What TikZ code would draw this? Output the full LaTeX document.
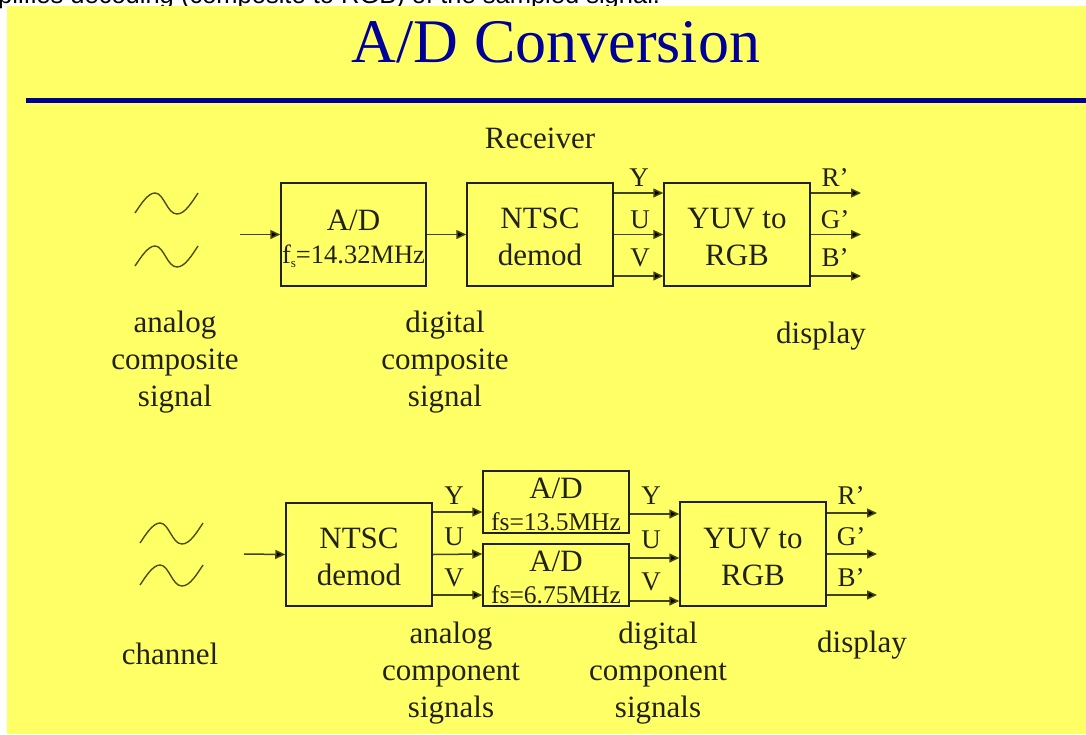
\documentclass[tikz,border=0pt]{standalone}
\usepackage{fontspec}
\setmainfont{Liberation Serif}
\newfontfamily\helv{Liberation Sans}
\usetikzlibrary{arrows.meta}
\definecolor{slidebg}{HTML}{FFFF66}
\definecolor{slideblue}{HTML}{000099}
\definecolor{ink}{HTML}{222211}
\newcommand{\topstrut}[1]{\rule{0pt}{#1pt}}
\newcommand{\adfont}{\fontsize{31}{33}\selectfont}
\tikzset{
  blockbox/.style={draw=ink,line width=1.5pt,inner sep=0pt,align=center,text=ink,font=\fontsize{31}{37}\selectfont},
  sigarrow/.style={draw=ink!85!yellow,line width=1.5pt,-{Triangle[length=10pt,width=9pt,fill=black]}},
  bodytext/.style={inner sep=0pt,align=center,text=ink,font=\fontsize{31}{37}\selectfont},
  chanlabel/.style={inner sep=0pt,text=ink,font=\fontsize{27}{30}\selectfont,anchor=base},
  sinecurve/.style={draw=ink!80!yellow,line width=1.4pt}
}
\newcommand{\sinewave}[2]{%
  \draw[sinecurve,shift={(#1,#2)}] (0,0) .. controls (6,-9) and (13,-20) .. (20,-20)
    .. controls (29,-20) and (32,1) .. (42,1) .. controls (50,1) and (57,-11) .. (63,-20);}
\begin{document}
\begin{tikzpicture}[x=1pt,y=-1pt]
\useasboundingbox (0,0) rectangle (1086,734);
\node[anchor=base west,inner sep=0pt,font=\helv\fontsize{25.5}{27}\selectfont] (topline) at (-2,3) {plifies decoding (composite to RGB) of the sampled signal.};
\fill[slidebg] (7,6) rectangle (1086,734);
\node[anchor=base,inner sep=0pt,text=slideblue,font=\fontsize{62}{64}\selectfont] (title) at (556,62) {A/D Conversion};
\fill[slideblue] (26,98) rectangle (1086,103);
\node[bodytext] (receiver) at (540,138) {Receiver};
% sine waves
\sinewave{135}{213}
\sinewave{135}{266}
\sinewave{140}{543}
\sinewave{140}{585}
% upper chain
\node[blockbox,minimum width=145pt,minimum height=103pt] (ad) at (353.5,234.5) {\adfont\topstrut{30}A/D\\[-4pt]\fontsize{26.5}{28}\selectfont f\raisebox{-4pt}{\fontsize{13}{14}\selectfont s}=14.32MHz};
\node[blockbox,minimum width=146pt,minimum height=103pt] (nt) at (540,234.5) {\topstrut{25.5}NTSC\\demod};
\node[blockbox,minimum width=146pt,minimum height=103pt] (yuv) at (737,234.5) {\topstrut{25.5}YUV to\\RGB};
\coordinate (inA) at (240,234.5);
\coordinate (rA) at (861,193);
\coordinate (gA) at (861,234.5);
\coordinate (bA) at (861,276);
\draw[sigarrow] (inA) -- (ad.west);
\draw[sigarrow] (ad.east) -- (nt.west);
\draw[sigarrow] ([yshift=41.5pt]nt.east) -- ([yshift=41.5pt]yuv.west);
\draw[sigarrow] (nt.east) -- (yuv.west);
\draw[sigarrow] ([yshift=-41.5pt]nt.east) -- ([yshift=-41.5pt]yuv.west);
\draw[sigarrow] ([yshift=41.5pt]yuv.east) -- (rA);
\draw[sigarrow] (yuv.east) -- (gA);
\draw[sigarrow] ([yshift=-41.5pt]yuv.east) -- (bA);
\node[chanlabel] (ya) at (639,186) {Y};
\node[chanlabel] (ua) at (640,228) {U};
\node[chanlabel] (va) at (640,266) {V};
\node[chanlabel] (ra) at (835,186) {R’};
\node[chanlabel] (ga) at (835,228) {G’};
\node[chanlabel] (ba) at (835,266) {B’};
\node[bodytext] (acs) at (175,362.5) {analog\\composite\\signal};
\node[bodytext] (dcs) at (445,362.5) {digital\\composite\\signal};
\node[bodytext] (dispa) at (821,336) {display};
% lower chain
\node[blockbox,minimum width=146pt,minimum height=103pt] (ntb) at (359,554.5) {\topstrut{25.5}NTSC\\demod};
\node[blockbox,minimum width=146pt,minimum height=62pt] (adY) at (556,502) {\adfont\topstrut{24.5}A/D\\[-5pt]\fontsize{25.5}{27}\selectfont fs=13.5MHz};
\node[blockbox,minimum width=146pt,minimum height=62pt] (adC) at (556,575) {\adfont\topstrut{24.5}A/D\\[-5pt]\fontsize{25.5}{27}\selectfont fs=6.75MHz};
\node[blockbox,minimum width=146pt,minimum height=104pt] (yuvb) at (753,554) {\topstrut{25.5}YUV to\\RGB};
\coordinate (inB) at (244,554);
\coordinate (rB) at (877,513);
\coordinate (gB) at (877,554);
\coordinate (bB) at (877,595);
\draw[sigarrow] (inB) -- (ntb.west);
\draw[sigarrow] ([yshift=42.5pt]ntb.east) -- ([yshift=-10pt]adY.west);
\draw[sigarrow] (ntb.east) -- ([yshift=21pt]adC.west);
\draw[sigarrow] ([yshift=-40.5pt]ntb.east) -- ([yshift=-20pt]adC.west);
\draw[sigarrow] ([yshift=-12pt]adY.east) -- ([yshift=40pt]yuvb.west);
\draw[sigarrow] ([yshift=17pt]adC.east) -- ([yshift=-4pt]yuvb.west);
\draw[sigarrow] ([yshift=-26pt]adC.east) -- ([yshift=-47pt]yuvb.west);
\draw[sigarrow] ([yshift=41pt]yuvb.east) -- (rB);
\draw[sigarrow] (yuvb.east) -- (gB);
\draw[sigarrow] ([yshift=-41pt]yuvb.east) -- (bB);
\node[chanlabel] (yb) at (454,504) {Y};
\node[chanlabel] (ub) at (454,545) {U};
\node[chanlabel] (vb) at (454,586) {V};
\node[chanlabel] (yc) at (651,504) {Y};
\node[chanlabel] (uc) at (651,548) {U};
\node[chanlabel] (vc) at (651,590) {V};
\node[chanlabel] (rb) at (851,504) {R’};
\node[chanlabel] (gb) at (851,545) {G’};
\node[chanlabel] (bb) at (851,586) {B’};
\node[bodytext] (chan) at (170,654) {channel};
\node[bodytext] (acomp) at (451,673) {analog\\component\\signals};
\node[bodytext] (dcomp) at (658,673) {digital\\component\\signals};
\node[bodytext] (dispb) at (862,645) {display};
\end{tikzpicture}
\end{document}
